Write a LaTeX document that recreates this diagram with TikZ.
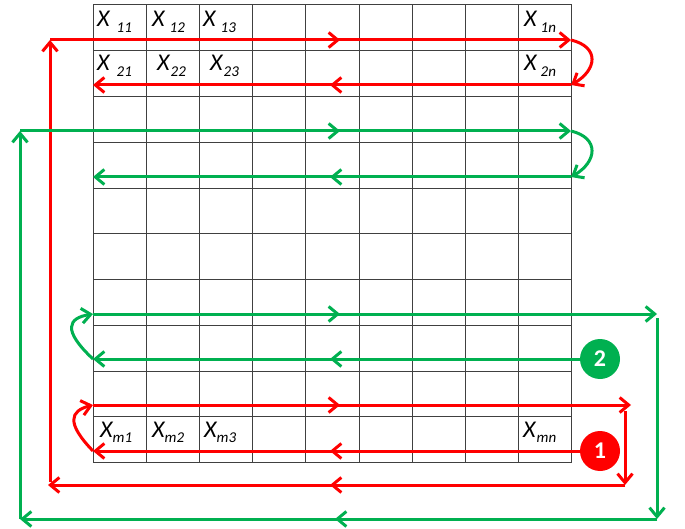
\documentclass[tikz,border=0pt]{standalone}
\usepackage{fontspec}
\setmainfont{Carlito}
\usepackage{tikz}
\usetikzlibrary{arrows.meta}
\definecolor{sc-red}{HTML}{FF0000}
\definecolor{sc-green}{HTML}{00B050}
\definecolor{sc-grid}{HTML}{404040}
\newcommand{\xsub}[2][0pt]{X\hspace{#1}\raisebox{-5.5pt}{\fontsize{15}{15}\selectfont #2}}

\begin{document}
\begin{tikzpicture}[
    x=1pt, y=-1pt,
    >={Straight Barb[length=9pt, width=15pt]},
    gridline/.style={draw=sc-grid, line width=1pt},
    cell/.style={anchor=base west, inner sep=0pt, font=\fontsize{24}{24}\selectfont\itshape},
    redconn/.style={->, draw=sc-red, line width=3pt},
    greenconn/.style={->, draw=sc-green, line width=3pt},
    badge/.style={circle, minimum size=40pt, inner sep=0pt, text=white, font=\fontsize{24}{24}\selectfont\bfseries}
]
\useasboundingbox (0,0) rectangle (685,529);

% =========================================================================
% MATRIZ (9 colunas x 10 linhas)
% =========================================================================
\foreach \i in {0,...,9}
    \draw[gridline] (93+\i*53.2, 5) -- (93+\i*53.2, 462.7);
\foreach \j in {0,...,10}
    \draw[gridline] (93, 5+\j*45.77) -- (571.8, 5+\j*45.77);

\node[cell] (x11) at (97,27)  {\xsub[7pt]{11}};
\node[cell] (x12) at (152,27) {\xsub[5pt]{12}};
\node[cell] (x13) at (203,27) {\xsub[5pt]{13}};
\node[cell] (x1n) at (524,27) {\xsub[4pt]{1n}};

\node[cell] (x21) at (97,71)  {\xsub[7pt]{21}};
\node[cell] (x22) at (157,71) {\xsub[1pt]{22}};
\node[cell] (x23) at (210,71) {\xsub[1pt]{23}};
\node[cell] (x2n) at (524,71) {\xsub[4pt]{2n}};

\node[cell] (xm1) at (100,437) {\xsub{m1}};
\node[cell] (xm2) at (152,437) {\xsub{m2}};
\node[cell] (xm3) at (204,437) {\xsub{m3}};
\node[cell] (xmn) at (523,437) {\xsub[1pt]{mn}};


% =========================================================================
% PERCURSO 1 (vermelho)
% =========================================================================
\coordinate (rTL) at (50,40);   \coordinate (rTM) at (340,40);  \coordinate (rTR) at (571,40);
\coordinate (rSR) at (571,85);  \coordinate (rSM) at (330,85);  \coordinate (rSL) at (93,85);
\coordinate (rAL) at (93,405);  \coordinate (rAM) at (340,405); \coordinate (rAR) at (631,405);
\coordinate (rBL) at (93,451);  \coordinate (rBM) at (330,451);
\coordinate (rVT) at (625,411); \coordinate (rVB) at (625,485);
\coordinate (rHM) at (330,485); \coordinate (rHL) at (48,485);  \coordinate (rLB) at (50,482);

\draw[redconn] (rTL) -- (rTR);
\draw[redconn] (rTL) -- (rTM);
\draw[redconn] (rTR) .. controls (600,47) and (597,70) .. (rSR);
\draw[redconn] (rSR) -- (rSL);
\draw[redconn] (rSR) -- (rSM);

\draw[redconn] (rBL) .. controls (66,423) and (70,411) .. (rAL);
\draw[redconn] (rAL) -- (rAR);
\draw[redconn] (rAL) -- (rAM);
\draw[redconn] (rVT) -- (rVB);
\draw[redconn] (rVB) -- (rHL);
\draw[redconn] (rVB) -- (rHM);
\draw[redconn] (rLB) -- (rTL);


% =========================================================================
% PERCURSO 2 (verde)
% =========================================================================
\coordinate (gTL) at (20,131);  \coordinate (gTM) at (340,131); \coordinate (gTR) at (571,131);
\coordinate (gSR) at (571,177); \coordinate (gSM) at (330,177); \coordinate (gSL) at (93,177);
\coordinate (gAL) at (93,314);  \coordinate (gAM) at (340,314); \coordinate (gAR) at (657,314);
\coordinate (gBL) at (93,359);  \coordinate (gBM) at (330,359);
\coordinate (gVT) at (657,318); \coordinate (gVB) at (657,519);
\coordinate (gHM) at (335,519); \coordinate (gHL) at (20,519);

\draw[greenconn] (gTL) -- (gTR);
\draw[greenconn] (gTL) -- (gTM);
\draw[greenconn] (gTR) .. controls (600,138) and (597,162) .. (gSR);
\draw[greenconn] (gSR) -- (gSL);
\draw[greenconn] (gSR) -- (gSM);

\draw[greenconn] (gBL) .. controls (62,330) and (68,318) .. (gAL);
\draw[greenconn] (gAL) -- (gAR);
\draw[greenconn] (gAL) -- (gAM);
\draw[greenconn] (gVT) -- (gVB);
\draw[greenconn] (gVB) -- (gHL);
\draw[greenconn] (gVB) -- (gHM);
\draw[greenconn] (gHL) -- (gTL);


% =========================================================================
% INDICADORES
% =========================================================================
\node[badge, fill=sc-green] (two) at (600,359) {2};
\node[badge, fill=sc-red]   (one) at (600,451) {1};

\draw[greenconn] (two.west) -- (gBL);
\draw[greenconn] (two.west) -- (gBM);
\draw[redconn]   (one.west) -- (rBL);
\draw[redconn]   (one.west) -- (rBM);

\end{tikzpicture}
\end{document}
